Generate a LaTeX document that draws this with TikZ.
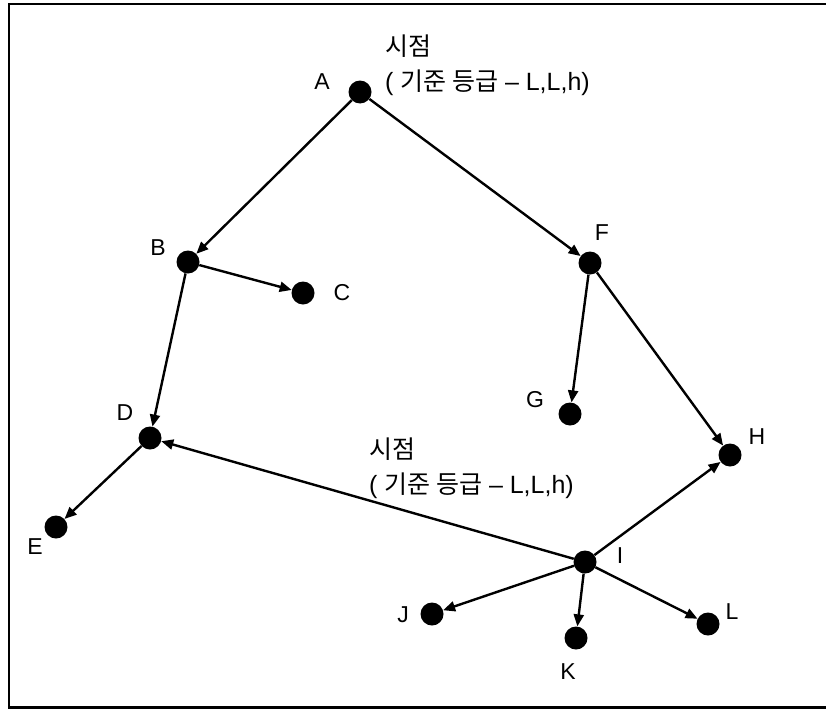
\documentclass[tikz,border=0pt]{standalone}
\usepackage{fontspec}
\setmainfont{Liberation Sans}
\newfontfamily\kr{Noto Sans CJK KR}
\usetikzlibrary{positioning,arrows.meta}

\begin{document}
\begin{tikzpicture}[x=1pt, y=-1pt,
  dot/.style={circle, fill=black, minimum size=23pt, inner sep=0pt},
  lbl/.style={font=\fontsize{23}{27}\selectfont, inner sep=0pt},
  note/.style={font=\fontsize{25}{35}\selectfont, align=left, anchor=west, inner sep=0pt},
  arr/.style={-{Triangle[length=12pt, width=10pt]}, line width=2.4pt},
]
\useasboundingbox (0,0) rectangle (826,709);
\clip (0,0) rectangle (826,709);

% === Frame ===
\draw[line width=2.4pt] (840,4) -- (9,4) -- (9,707.5) -- (840,707.5);

% === Points ===
\node[dot] (a) at (360,92) {};
\node[dot] (b) at (188,262) {};
\node[dot] (c) at (303,293) {};
\node[dot] (f) at (590,263) {};
\node[dot] (g) at (570,414) {};
\node[dot] (h) at (730,455) {};
\node[dot] (d) at (150,438) {};
\node[dot] (e) at (56,527) {};
\node[dot] (i) at (585,562) {};
\node[dot] (j) at (432,614) {};
\node[dot] (k) at (576,638) {};
\node[dot] (l) at (708,624) {};

% === Point labels ===
\node[lbl] (la) at (322,82) {A};
\node[lbl] (lb) at (158,248) {B};
\node[lbl] (lc) at (342,293) {C};
\node[lbl] (lf) at (602,233) {F};
\node[lbl] (lg) at (535,400) {G};
\node[lbl] (lh) at (757,437) {H};
\node[lbl] (ld) at (125,413) {D};
\node[lbl] (le) at (35,547) {E};
\node[lbl] (li) at (620,556) {I};
\node[lbl] (lj) at (403,615) {J};
\node[lbl] (lk) at (568,672) {K};
\node[lbl] (ll) at (732,612) {L};

% === Viewpoint notes ===
\node[note] (view1) at (385,65) {\kr 시점\\( {\kr 기준 등급} -- L,L,h)};
\node[note] (view2) at (369,468) {\kr 시점\\( {\kr 기준 등급} -- L,L,h)};

% === Arrows ===
\draw[arr] (a) -- (b);
\draw[arr] (a) -- (f);
\draw[arr] (b) -- (c);
\draw[arr] (b) -- (d);
\draw[arr] (f) -- (g);
\draw[arr] (f) -- (h);
\draw[arr] (d) -- (e);
\draw[arr] (i) -- (d);
\draw[arr] (i) -- (h);
\draw[arr] (i) -- (j);
\draw[arr] (i) -- (k);
\draw[arr] (i) -- (l);

\end{tikzpicture}
\end{document}
